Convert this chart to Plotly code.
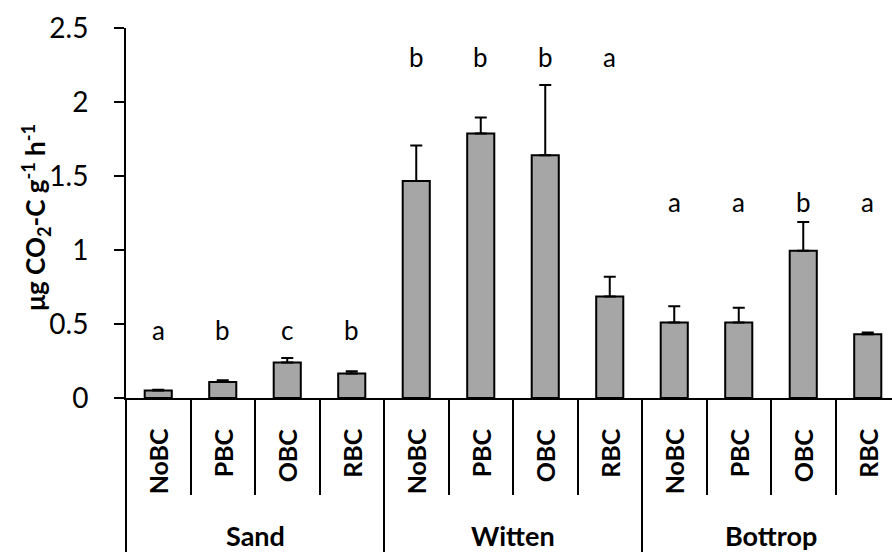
import plotly.graph_objects as go

groups = ["Sand", "Witten", "Bottrop"]
treatments = ["NoBC", "PBC", "OBC", "RBC"]
means = [0.05, 0.108, 0.24, 0.165,
         1.466, 1.788, 1.64, 0.685,
         0.51, 0.51, 0.995, 0.43]
errors = [0.005, 0.012, 0.03, 0.015,
          0.24, 0.108, 0.475, 0.135,
          0.11, 0.10, 0.195, 0.012]
letters = ["a", "b", "c", "b",
           "b", "b", "b", "a",
           "a", "a", "b", "a"]
letter_levels = [0.34, 2.18, 1.20]
y_ticks = [0, 0.5, 1, 1.5, 2, 2.5]
y_ticklabels = ["0", "0.5", "1", "1.5", "2", "2.5"]

FONT = "Lato"
n_t = len(treatments)
x_idx = list(range(len(means)))

fig = go.Figure()
fig.add_trace(go.Bar(
    x=x_idx, y=means, width=0.42,
    marker=dict(color="#A6A6A6", line=dict(color="black", width=2)),
    error_y=dict(type="data", symmetric=False, array=errors,
                 arrayminus=[0] * len(errors),
                 color="black", thickness=2, width=6),
    showlegend=False,
))

annotations = []
# significance letters
for i, lt in enumerate(letters):
    annotations.append(dict(x=i, y=letter_levels[i // n_t], xref="x", yref="y",
                            text=lt, showarrow=False, yanchor="bottom",
                            font=dict(family=FONT, size=26, color="black")))
# treatment labels (rotated)
for i in x_idx:
    annotations.append(dict(x=i, y=-0.076, xref="x", yref="paper",
                            text="<b>%s</b>" % treatments[i % n_t], textangle=-90,
                            showarrow=False, xanchor="center", yanchor="top",
                            font=dict(family=FONT, size=25, color="black")))
# group labels
for g, name in enumerate(groups):
    annotations.append(dict(x=g * n_t + (n_t - 1) / 2, y=-0.371, xref="x", yref="paper",
                            text="<b>%s</b>" % name, showarrow=False,
                            xanchor="center", yanchor="middle",
                            font=dict(family=FONT, size=27, color="black")))
# y axis title
annotations.append(dict(x=-0.118, y=0.489, xref="paper", yref="paper",
                        text="<b>μg CO<sub>2</sub>-C g<sup>-1</sup> h<sup>-1</sup></b>",
                        textangle=-90, showarrow=False, xanchor="center", yanchor="middle",
                        font=dict(family=FONT, size=26, color="black")))

group_bounds = [g * n_t - 0.5 for g in range(len(groups))]
cat_bounds = [i + 0.5 for i in x_idx if (i + 1) % n_t != 0]

fig.update_layout(
    width=892, height=552,
    margin=dict(l=126, r=0, t=28, b=154),
    paper_bgcolor="white", plot_bgcolor="white",
    annotations=annotations,
    xaxis=dict(range=[-0.5, 11.376], showgrid=False, zeroline=False,
               automargin=False,
               showline=True, linecolor="black", linewidth=2,
               showticklabels=False,
               tickmode="array", tickvals=group_bounds,
               ticks="outside", ticklen=160, tickwidth=2, tickcolor="black",
               minor=dict(tickmode="array", tickvals=cat_bounds, ticks="outside",
                          ticklen=95, tickwidth=2, tickcolor="black")),
    yaxis=dict(range=[0, 2.5], showgrid=False, zeroline=False,
               automargin=False,
               showline=True, linecolor="black", linewidth=2,
               tickmode="array", tickvals=y_ticks, ticktext=y_ticklabels,
               ticks="outside", ticklen=10, tickwidth=2, tickcolor="black",
               ticklabelstandoff=20,
               tickfont=dict(family=FONT, size=28, color="black")),
)

fig.write_html("out.html", config={"displayModeBar": False},
               post_script="document.body.style.margin='0';document.body.style.overflow='hidden';")
